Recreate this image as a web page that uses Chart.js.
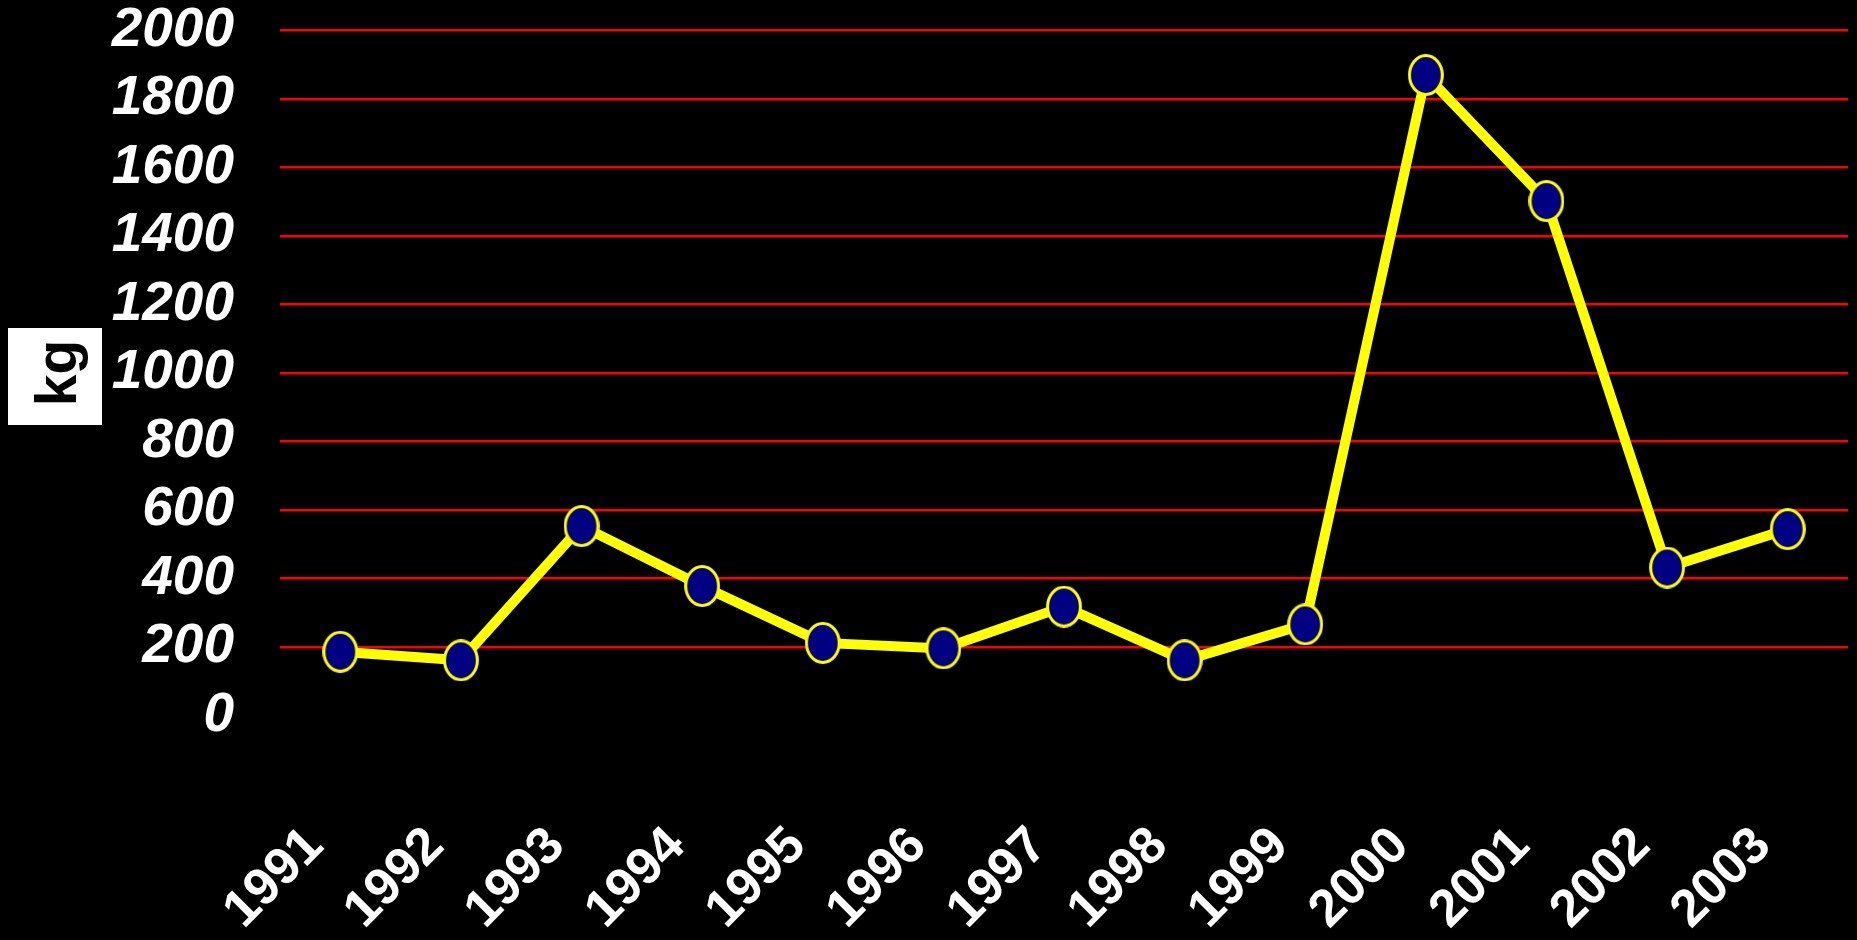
<!DOCTYPE html>
<html>
<head>
<meta charset="utf-8">
<style>
  html, body { margin: 0; padding: 0; background: #000; overflow: hidden; }
  #wrap { width: 1857px; height: 940px; position: relative; background: #000; }
</style>
<script src="https://cdn.jsdelivr.net/npm/chart.js@4.4.1/dist/chart.umd.min.js"></script>
</head>
<body>
<div id="wrap"><canvas id="c" width="1857" height="940"></canvas></div>
<script>
// ---- data ----
const years = ['1991','1992','1993','1994','1995','1996','1997','1998','1999','2000','2001','2002','2003'];
const kgValues = [186, 161, 553, 378, 212, 196, 318, 161, 266, 1870, 1502, 432, 544];
const yMin = 0;
const yMax = 2000;
const yStep = 200;
const yTitle = 'kg';

// ---- elliptical marker ----
function makeMarker() {
  const w = 36, h = 42;
  const cv = document.createElement('canvas');
  cv.width = w; cv.height = h;
  const g = cv.getContext('2d');
  g.beginPath();
  g.ellipse(w / 2, h / 2, w / 2 - 1.6, h / 2 - 1.6, 0, 0, Math.PI * 2);
  g.fillStyle = '#000080';
  g.fill();
  g.lineWidth = 3;
  g.strokeStyle = '#FFFF00';
  g.stroke();
  return cv;
}
const marker = makeMarker();

const FONT = "'Liberation Sans', Arial, Helvetica, sans-serif";

const bgAndBox = {
  id: 'bgAndBox',
  beforeDraw(chart) {
    const ctx = chart.ctx;
    ctx.save();
    ctx.fillStyle = '#000';
    ctx.fillRect(0, 0, chart.width, chart.height);
    const ys = chart.scales.y;
    const cy = (ys.top + ys.bottom) / 2 + 3;
    ctx.fillStyle = '#fff';
    ctx.fillRect(8, cy - 48, 94, 97);
    ctx.restore();
  }
};

new Chart(document.getElementById('c'), {
  type: 'line',
  data: {
    labels: years,
    datasets: [{
      data: kgValues,
      borderColor: '#FFFF00',
      borderWidth: 10,
      tension: 0,
      fill: false,
      pointStyle: marker,
      pointRadius: 18,
      pointHoverRadius: 18
    }]
  },
  options: {
    responsive: false,
    animation: false,
    devicePixelRatio: 1,
    layout: {
      autoPadding: false,
      padding: { top: 30.5, right: 9, bottom: 0, left: 0 }
    },
    plugins: {
      legend: { display: false },
      tooltip: { enabled: false },
      title: { display: false }
    },
    scales: {
      x: {
        offset: true,
        grid: {
          display: true,
          drawOnChartArea: false,
          drawTicks: true,
          tickLength: 100,
          color: 'rgba(0,0,0,0)',
          tickColor: 'rgba(0,0,0,0)'
        },
        border: { display: false },
        ticks: {
          color: '#fff',
          font: { family: FONT, size: 52, weight: 'bold' },
          minRotation: 45,
          maxRotation: 45,
          padding: 0,
          labelOffset: -25,
          autoSkip: false
        },
        afterFit(scale) { scale.height = 224.5; }
      },
      y: {
        min: yMin,
        max: yMax,
        grid: {
          drawTicks: true,
          tickLength: 46,
          tickColor: 'rgba(0,0,0,0)',
          lineWidth: 2.6,
          color: (ctx) => (ctx.tick && ctx.tick.value === 0) ? 'rgba(0,0,0,0)' : '#FF0000'
        },
        border: { display: false },
        ticks: {
          stepSize: yStep,
          color: '#fff',
          padding: 0,
          font: { family: FONT, size: 55, weight: 'bold', style: 'italic', lineHeight: 1 },
          callback: (v) => String(v)
        },
        title: {
          display: true,
          text: yTitle,
          color: '#000',
          font: { family: FONT, size: 57, weight: 'bold', lineHeight: 1.2 },
          padding: { top: 26, bottom: 0 }
        },
        afterFit(scale) { scale.width = 280; }
      }
    }
  },
  plugins: [bgAndBox]
});
</script>
</body>
</html>
